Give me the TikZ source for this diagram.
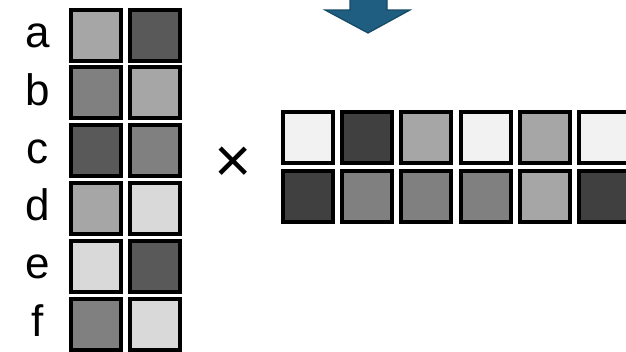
\documentclass[tikz,border=0pt]{standalone}
\usepackage{fontspec}
\setmainfont{Liberation Sans}
\definecolor{gA}{HTML}{F2F2F2}
\definecolor{gB}{HTML}{D9D9D9}
\definecolor{gC}{HTML}{A6A6A6}
\definecolor{gD}{HTML}{808080}
\definecolor{gE}{HTML}{595959}
\definecolor{gF}{HTML}{404040}
\definecolor{arrfill}{HTML}{1F5E80}
\definecolor{arrline}{HTML}{154A66}
\begin{document}
\begin{tikzpicture}[x=1pt,y=-1pt,
  cell/.style={draw=black,line width=4pt,minimum width=50pt,minimum height=51pt,inner sep=0pt,outer sep=0pt},
  lbl/.style={anchor=base,inner sep=0pt,font=\fontsize{44}{50}\selectfont},
  timesmark/.style={inner sep=0pt,font=\fontsize{64}{68}\selectfont}]
\clip (0,0) rectangle (626,351);
\fill[white] (0,0) rectangle (626,351);
% arrow
\draw[fill=arrfill,draw=arrline,line width=1.2pt,line join=miter]
  (350,-5) -- (387,-5) -- (387,10) -- (410,10) -- (368,33) -- (325,10) -- (350,10) -- cycle;
% left matrix
\foreach \r/\l/\ca/\cb [count=\i from 0] in {a/a/gC/gE, b/b/gD/gC, c/c/gE/gD, d/d/gC/gB, e/e/gB/gE, f/f/gD/gB}{
  \node[cell,fill=\ca] (L-\r-1) at (96,{35+57.8*\i}) {};
  \node[cell,fill=\cb] (L-\r-2) at (155,{35+57.8*\i}) {};
  \node[lbl] (lab-\r) at (38,{47.5+57.8*\i}) {\l};
}
% times
\node[timesmark] (times) at (233.5,165) {×};
% right matrix
\foreach \ca/\cb [count=\j from 0] in {gA/gF, gF/gD, gC/gD, gA/gD, gC/gC, gA/gF}{
  \node[cell,fill=\ca] (R-1-\j) at ({308+59.2*\j},137) {};
  \node[cell,fill=\cb] (R-2-\j) at ({308+59.2*\j},196.5) {};
}
\end{tikzpicture}
\end{document}
